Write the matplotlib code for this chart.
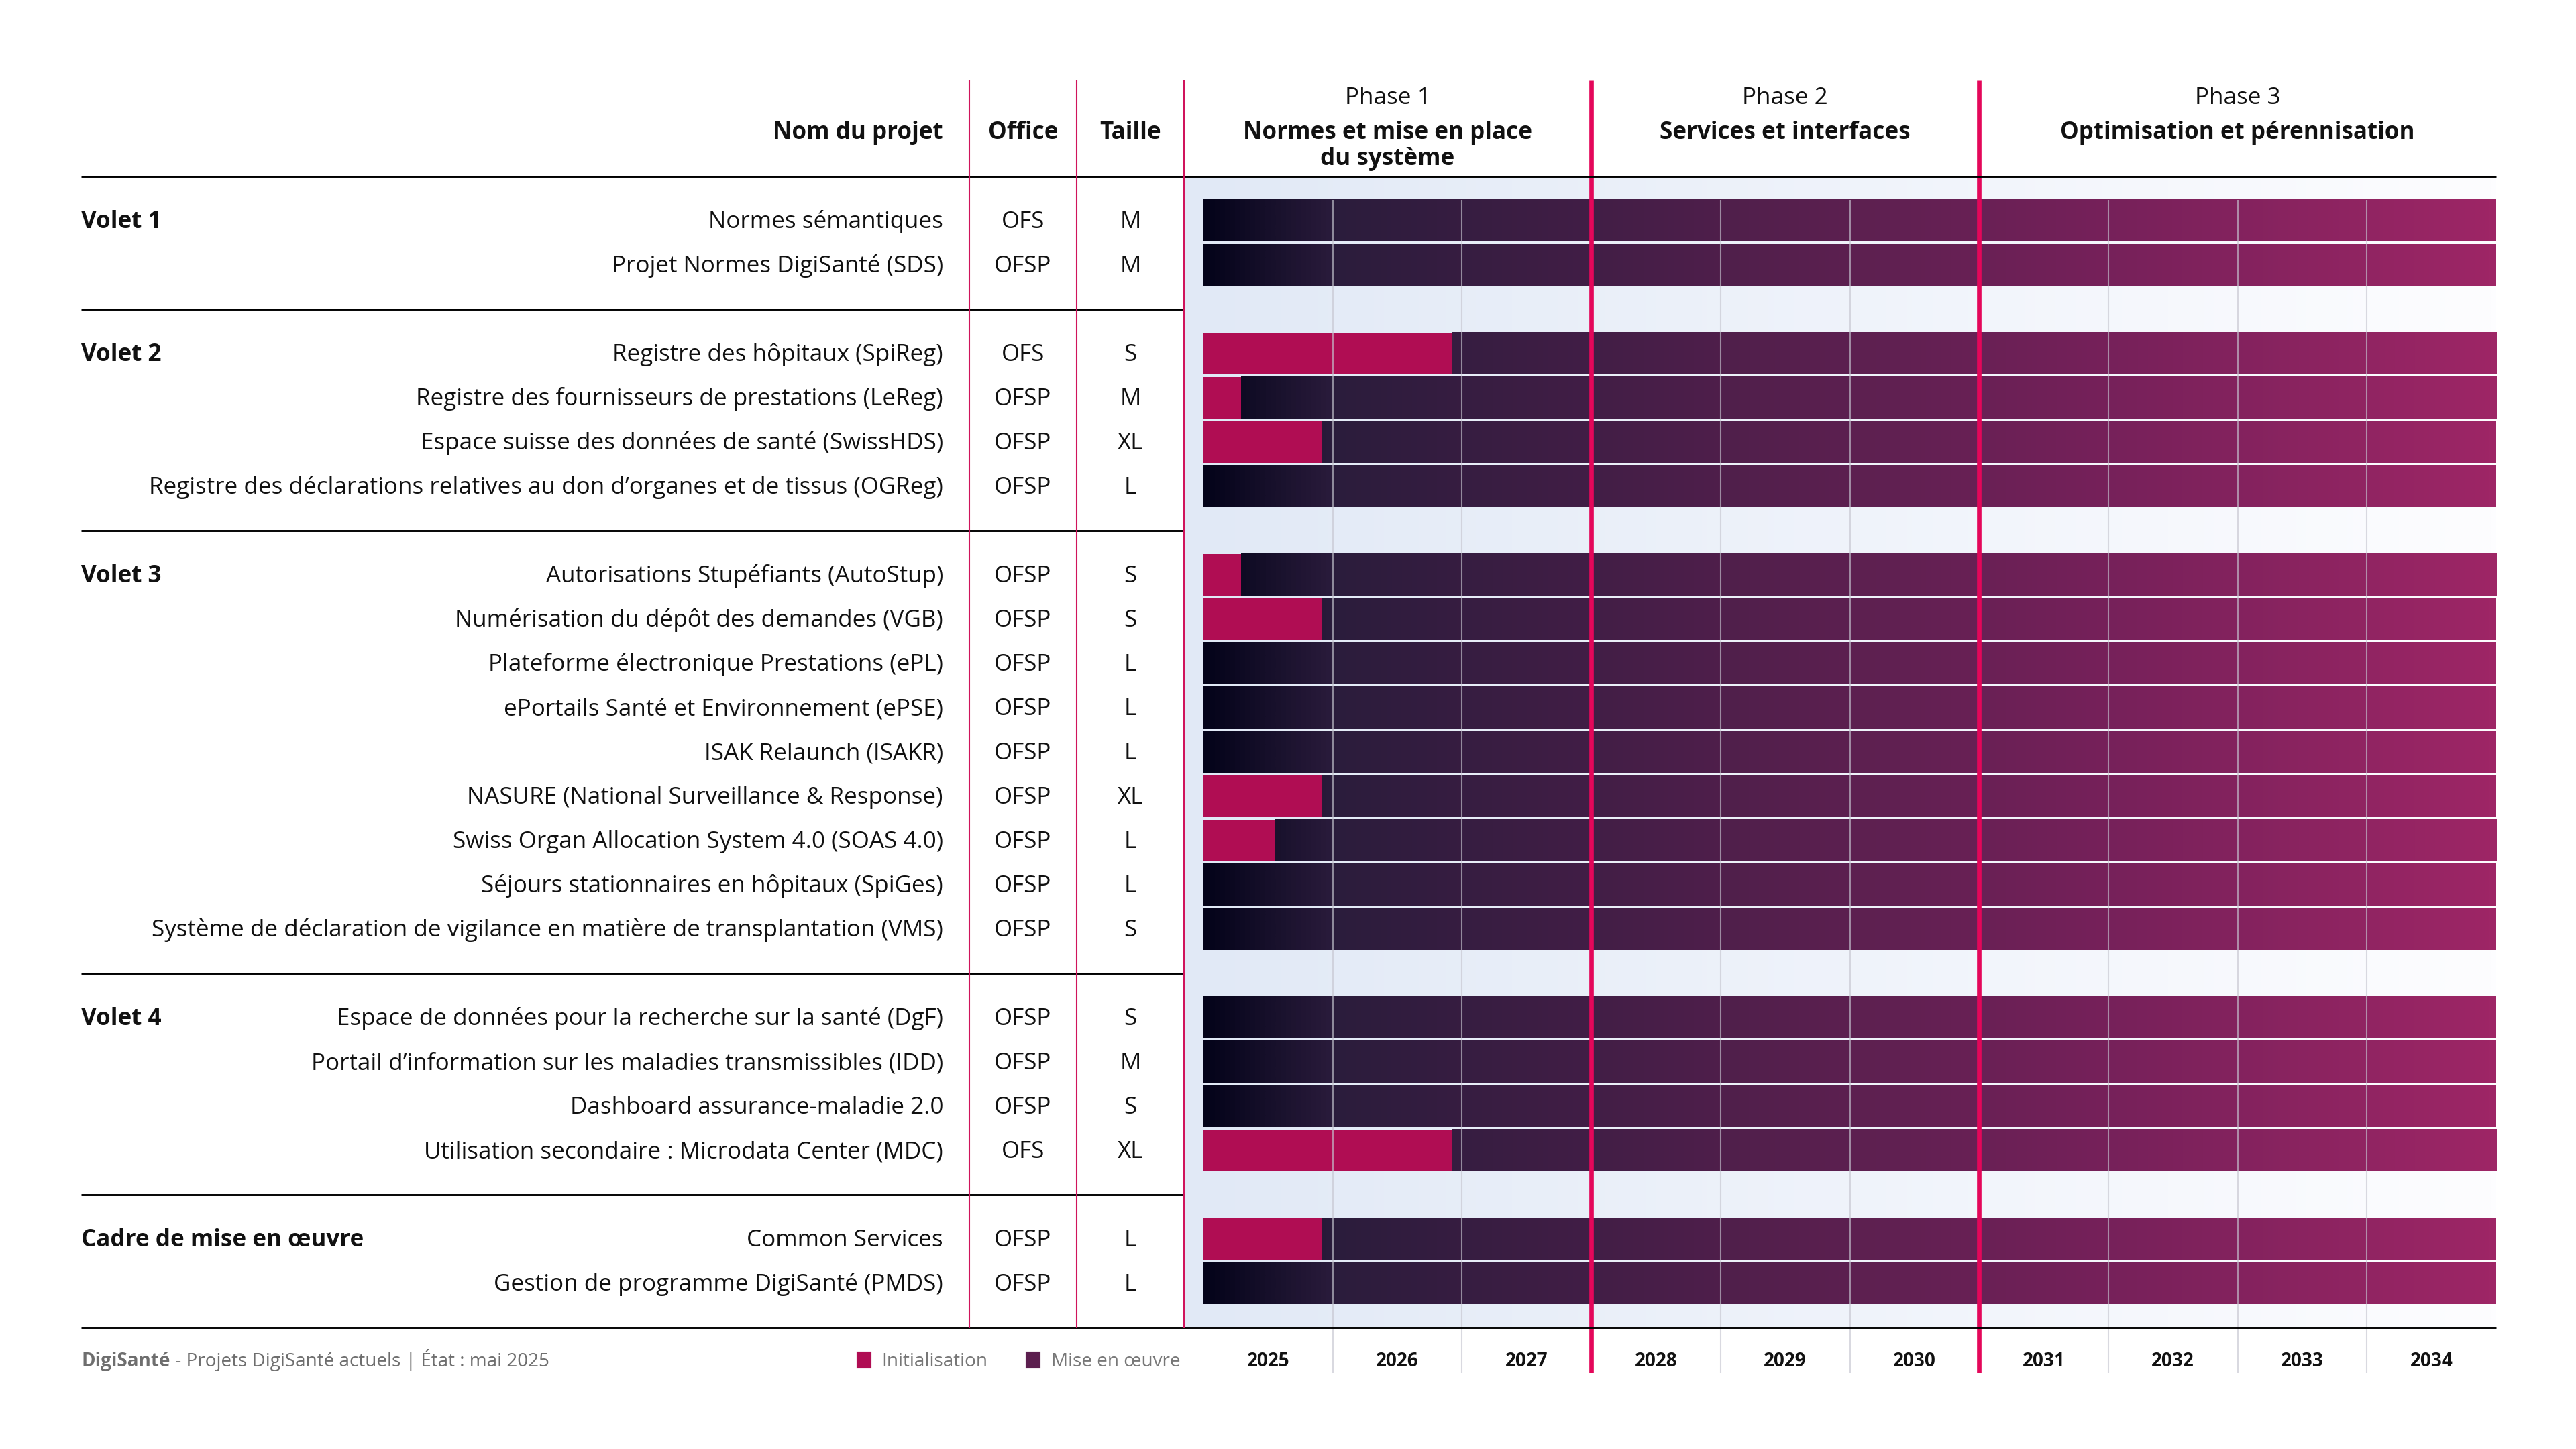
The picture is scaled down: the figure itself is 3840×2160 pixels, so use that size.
import numpy as np
import matplotlib
matplotlib.use("Agg")
import matplotlib.pyplot as plt
from matplotlib import transforms
from matplotlib.colors import LinearSegmentedColormap, Normalize
from matplotlib.patches import Patch

plt.rcParams["font.family"] = ["Open Sans", "Noto Sans", "DejaVu Sans"]

# données du graphique
volets = ["Volet 1", "Volet 2", "Volet 3", "Volet 4", "Cadre de mise en œuvre"]
nb_projets = [2, 4, 9, 4, 2]

projets = [
    "Normes sémantiques",
    "Projet Normes DigiSanté (SDS)",
    "Registre des hôpitaux (SpiReg)",
    "Registre des fournisseurs de prestations (LeReg)",
    "Espace suisse des données de santé (SwissHDS)",
    "Registre des déclarations relatives au don d’organes et de tissus (OGReg)",
    "Autorisations Stupéfiants (AutoStup)",
    "Numérisation du dépôt des demandes (VGB)",
    "Plateforme électronique Prestations (ePL)",
    "ePortails Santé et Environnement (ePSE)",
    "ISAK Relaunch (ISAKR)",
    "NASURE (National Surveillance & Response)",
    "Swiss Organ Allocation System 4.0 (SOAS 4.0)",
    "Séjours stationnaires en hôpitaux (SpiGes)",
    "Système de déclaration de vigilance en matière de transplantation (VMS)",
    "Espace de données pour la recherche sur la santé (DgF)",
    "Portail d’information sur les maladies transmissibles (IDD)",
    "Dashboard assurance-maladie 2.0",
    "Utilisation secondaire : Microdata Center (MDC)",
    "Common Services",
    "Gestion de programme DigiSanté (PMDS)",
]
offices = ["OFS", "OFSP",
           "OFS", "OFSP", "OFSP", "OFSP",
           "OFSP", "OFSP", "OFSP", "OFSP", "OFSP", "OFSP", "OFSP", "OFSP", "OFSP",
           "OFSP", "OFSP", "OFSP", "OFS",
           "OFSP", "OFSP"]
tailles = ["M", "M",
           "S", "M", "XL", "L",
           "S", "S", "L", "L", "L", "XL", "L", "L", "S",
           "S", "M", "S", "XL",
           "L", "L"]
# fin de la phase d'initialisation (année décimale), 2025.0 = pas d'initialisation
fin_init = [2025.0, 2025.0,
            2026.92, 2025.29, 2025.92, 2025.0,
            2025.29, 2025.92, 2025.0, 2025.0, 2025.0, 2025.92, 2025.55, 2025.0, 2025.0,
            2025.0, 2025.0, 2025.0, 2026.92,
            2025.92, 2025.0]
fin_projets = 2035

annees = list(range(2025, 2035))
phases = ["Phase 1", "Phase 2", "Phase 3"]
phase_titres = ["Normes et mise en place\ndu système", "Services et interfaces",
                "Optimisation et pérennisation"]
phase_debut = [2025, 2028, 2031]
phase_fin = [2028, 2031, 2035]

# couleurs
ROSE = "#e4075a"
ROSE_FIN = "#d0145c"
INIT = "#b00d53"
MISE = "#5c1f4f"
cmap_mise = LinearSegmentedColormap.from_list(
    "mise", [(0.0, "#04041a"), (0.1, "#2b1c3c"), (0.3, "#421e46"),
             (0.5, "#5c2050"), (0.7, "#76215a"), (1.0, "#9e2666")])
cmap_fond = LinearSegmentedColormap.from_list("fond", ["#e1e9f6", "#fdfdff"])

W, H = 3840, 2160
fig = plt.figure(figsize=(12.8, 7.2), dpi=300)

def fx(px):
    return px / W

x_gauche = 2025 - 29 / 192.7
ax = fig.add_axes([fx(1765), 0, fx(3721 - 1765), 1])
tr = transforms.blended_transform_factory(fig.transFigure, ax.transData)

# positions des lignes (une ligne vide entre les volets)
lignes = []
premiere = []
seps = []
r = 0
for n in nb_projets:
    premiere.append(r)
    lignes += list(range(r, r + n))
    r += n + 1
    seps.append(r - 1)
ligne_bas = seps[-1]
seps = seps[:-1]

# fond dégradé
ax.imshow(np.linspace(0, 1, 256)[None, :], extent=(x_gauche, fin_projets, ligne_bas, -1),
          cmap=cmap_fond, aspect="auto", zorder=0)

h = 0.94
norm = Normalize(2025, 2035)
for y, d in zip(lignes, fin_init):
    xs = np.linspace(d, fin_projets, 400)
    ax.imshow(xs[None, :], extent=(d, fin_projets, y + h / 2, y - h / 2),
              cmap=cmap_mise, norm=norm, aspect="auto", interpolation="bilinear", zorder=1)
    if d > 2025:
        ax.barh(y, d - 2025, left=2025, height=h, color=INIT, zorder=2)

# grille des années et séparations des phases
grille = [a for a in annees[1:] if a not in phase_debut]
ax.vlines(grille, -0.47, 26.02, colors="#c6c6d0", lw=0.5, alpha=0.65, zorder=3, clip_on=False)
ax.vlines(phase_debut[1:], -3.17, 26.02, colors=ROSE, lw=1.6, zorder=5, clip_on=False)

for a in annees:
    ax.text(a + 0.5, 25.77, str(a), ha="center", va="center", fontsize=6.7,
            fontweight="bold", color="#111111", clip_on=False)

# en-têtes des phases (va=baseline -> ligne de base de la dernière ligne)
for p, t, d, f in zip(phases, phase_titres, phase_debut, phase_fin):
    c = ((x_gauche if d == 2025 else d) + f) / 2
    ax.text(c, -2.64, p, ha="center", va="baseline", fontsize=8.4, color="#111111")
    ax.text(c, -1.85 + 0.59 * t.count("\n"), t, ha="center", va="baseline", fontsize=8.4,
            fontweight="bold", color="#111111", linespacing=1.1)

# tableau de gauche
ax.hlines([-1, ligne_bas], fx(121), fx(3721), colors="black", lw=0.7, transform=tr,
          clip_on=False, zorder=6)
ax.hlines(seps, fx(121), fx(1765), colors="black", lw=0.7, transform=tr, clip_on=False)
ax.vlines([fx(1445), fx(1605), fx(1765)], -3.17, ligne_bas, colors=ROSE_FIN, lw=0.5,
          transform=tr, clip_on=False, zorder=6)

ax.text(fx(1406), -1.85, "Nom du projet", transform=tr, ha="right", va="baseline",
        fontsize=8.4, fontweight="bold", color="#111111")
ax.text(fx(1525), -1.85, "Office", transform=tr, ha="center", va="baseline",
        fontsize=8.4, fontweight="bold", color="#111111")
ax.text(fx(1685), -1.85, "Taille", transform=tr, ha="center", va="baseline",
        fontsize=8.4, fontweight="bold", color="#111111")

for v, y in zip(volets, premiere):
    ax.text(fx(121), y + 0.17, v, transform=tr, ha="left", va="baseline",
            fontsize=8.4, fontweight="bold", color="#111111")
for y, p, o, t in zip(lignes, projets, offices, tailles):
    ax.text(fx(1406), y + 0.17, p, transform=tr, ha="right", va="baseline",
            fontsize=8.4, color="#111111")
    ax.text(fx(1525), y + 0.17, o, transform=tr, ha="center", va="baseline",
            fontsize=8.4, color="#111111")
    ax.text(fx(1685), y + 0.17, t, transform=tr, ha="center", va="baseline",
            fontsize=8.4, color="#111111")

# pied de page
t1 = ax.text(fx(121), 25.77, "DigiSanté", transform=tr, ha="left", va="center",
             fontsize=6.7, fontweight="bold", color="#6e6e6e")
ax.annotate(" - Projets DigiSanté actuels | État : mai 2025", xy=(1, 0), xycoords=t1,
            ha="left", va="bottom", fontsize=6.7, color="#6e6e6e")

fig.legend(handles=[Patch(color=INIT), Patch(color=MISE)],
           labels=["Initialisation", "Mise en œuvre"], ncol=2, frameon=False,
           loc="center left", bbox_to_anchor=(fx(1279), 1 - 2030 / H),
           fontsize=6.7, labelcolor="#777777", handlelength=0.64, handleheight=0.75,
           handletextpad=0.64, columnspacing=2.1, borderpad=0, borderaxespad=0)

ax.set_xlim(x_gauche, fin_projets)
ax.set_ylim(27.74, -4.985)
ax.axis("off")

fig.savefig("out.png", dpi=300, facecolor="white")
